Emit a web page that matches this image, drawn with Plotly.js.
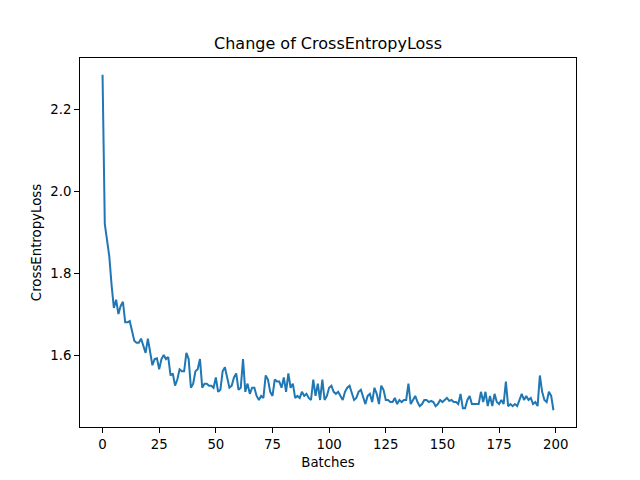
<!DOCTYPE html>
<html><head><meta charset="utf-8">
<script src="https://cdn.plot.ly/plotly-3.0.1.min.js"></script>
<style>html,body{margin:0;padding:0;background:#fff}</style>
</head><body><div id="chart" style="width:640px;height:480px"></div>
<script>
const lossValues = [
2.285,1.92,1.88,1.84,1.77,1.715,1.735,1.70,1.72,1.73,
1.68,1.68,1.683,1.655,1.635,1.63,1.63,1.64,1.62,1.605,
1.64,1.61,1.575,1.59,1.592,1.565,1.59,1.60,1.59,1.595,
1.55,1.555,1.525,1.54,1.565,1.56,1.56,1.605,1.59,1.52,
1.53,1.56,1.565,1.59,1.52,1.53,1.53,1.525,1.525,1.52,
1.545,1.51,1.515,1.56,1.57,1.545,1.52,1.525,1.545,1.555,
1.515,1.52,1.59,1.51,1.53,1.505,1.52,1.52,1.50,1.49,
1.50,1.495,1.55,1.54,1.51,1.50,1.54,1.535,1.535,1.52,
1.545,1.51,1.555,1.52,1.53,1.495,1.50,1.495,1.51,1.50,
1.505,1.495,1.49,1.54,1.50,1.53,1.49,1.54,1.49,1.50,
1.52,1.525,1.51,1.505,1.51,1.50,1.49,1.51,1.52,1.525,
1.51,1.49,1.495,1.51,1.515,1.495,1.48,1.50,1.505,1.485,
1.52,1.505,1.48,1.525,1.515,1.49,1.49,1.485,1.485,1.495,
1.48,1.49,1.485,1.49,1.49,1.53,1.48,1.49,1.50,1.485,
1.475,1.48,1.49,1.49,1.485,1.488,1.485,1.475,1.48,1.49,
1.485,1.49,1.495,1.488,1.49,1.485,1.485,1.48,1.505,1.47,
1.47,1.49,1.50,1.48,1.48,1.48,1.48,1.51,1.485,1.51,
1.475,1.50,1.475,1.505,1.485,1.48,1.49,1.48,1.535,1.475,
1.48,1.475,1.48,1.475,1.49,1.505,1.49,1.50,1.49,1.495,
1.48,1.485,1.475,1.55,1.51,1.49,1.485,1.51,1.50,1.465
];
const batches = lossValues.map((_, i) => i);
const xTicks = [0,25,50,75,100,125,150,175,200];
const yTicks = [1.6,1.8,2.0,2.2];

const font = {family: 'DejaVu Sans', size: 13.3, color: '#000'};
const axisCommon = {
  showgrid: false, zeroline: false, showline: true, mirror: true,
  linecolor: '#000', linewidth: 1, ticks: 'outside', ticklen: 4.9,
  tickcolor: '#000', tickwidth: 1, tickfont: font
};
Plotly.newPlot('chart', [{
  x: batches, y: lossValues, type: 'scatter', mode: 'lines',
  line: {color: '#1f77b4', width: 2}
}], {
  width: 640, height: 480,
  paper_bgcolor: '#fff', plot_bgcolor: '#fff',
  margin: {l: 80, r: 64, t: 58, b: 53},
  showlegend: false,
  title: {text: 'Change of CrossEntropyLoss', font: {family: 'DejaVu Sans', size: 16, color: '#000'},
          xref: 'paper', x: 0.5, xanchor: 'center', y: 1 - 43/480, yanchor: 'middle'},
  xaxis: Object.assign({}, axisCommon, {
    range: [-9.95, 208.95], tickvals: xTicks, ticktext: xTicks.map(String),
    title: {text: 'Batches', font: font, standoff: 6}
  }),
  yaxis: Object.assign({}, axisCommon, {
    range: [1.424, 2.326], tickvals: yTicks, ticktext: yTicks.map(v => v.toFixed(1)),
    title: {text: 'CrossEntropyLoss', font: font, standoff: 5}
  })
}, {displayModeBar: false, staticPlot: true});
</script></body></html>
